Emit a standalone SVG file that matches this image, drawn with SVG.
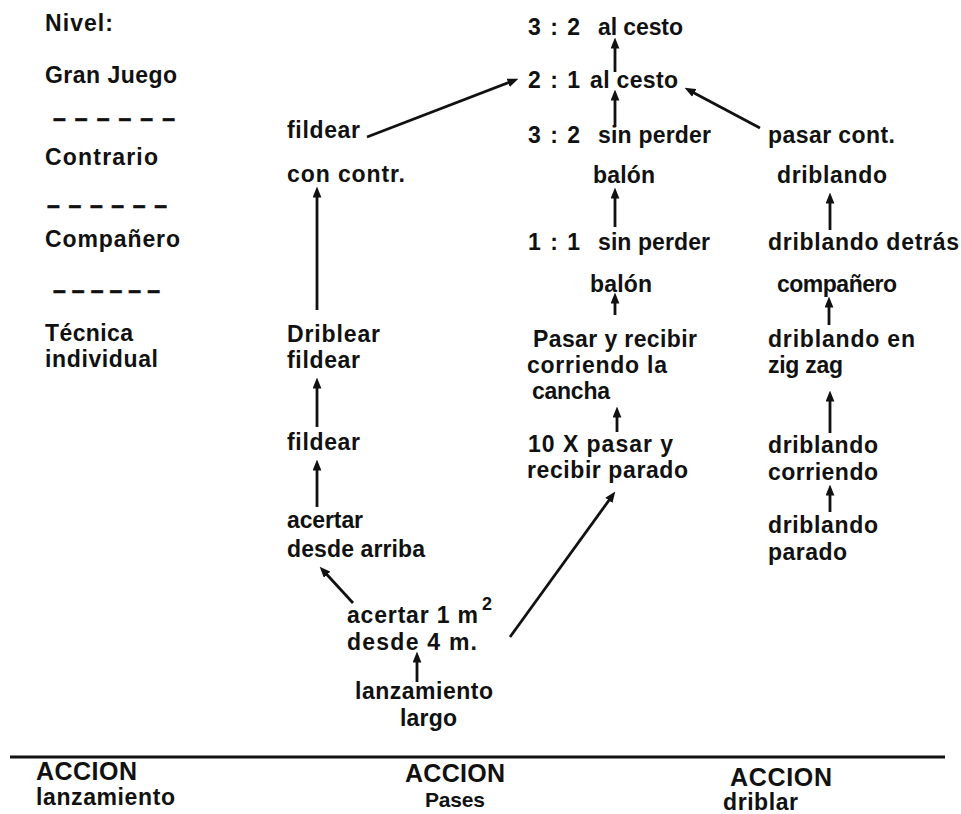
<svg xmlns="http://www.w3.org/2000/svg" width="961" height="814" viewBox="0 0 961 814">
<style>
text{font-family:"Liberation Sans",Arial,sans-serif;font-weight:bold;font-size:23px;fill:#111;}
.big{font-size:25px;}
.small{font-size:21px;}
.sup{font-size:18px;}
.dash{font-size:23px;stroke:#111;stroke-width:0.6;}
.conn line{stroke:#111;stroke-width:2.8;fill:none;marker-end:url(#ah);}
.axis{stroke:#111;stroke-width:3;}
</style>
<defs>
<marker id="ah" viewBox="0 0 10 8" refX="5" refY="4" markerWidth="11" markerHeight="9" markerUnits="userSpaceOnUse" orient="auto">
<path d="M0,0 L10,4 L0,8 z" fill="#111"/>
</marker>
</defs>
<rect width="961" height="814" fill="#fff"/>

<g id="levels">
<g id="lvl-nivel"><text x="45" y="31" textLength="68" lengthAdjust="spacing">Nivel:</text></g>
<g id="lvl-gran-juego"><text x="45" y="83" textLength="132" lengthAdjust="spacing">Gran Juego</text></g>
<g id="sep1"><text class="dash" x="53" y="126" textLength="122" lengthAdjust="spacing">– – – – – –</text></g>
<g id="lvl-contrario"><text x="45" y="165" textLength="113" lengthAdjust="spacing">Contrario</text></g>
<g id="sep2"><text class="dash" x="47" y="213" textLength="120" lengthAdjust="spacing">– – – – – –</text></g>
<g id="lvl-companero"><text x="45" y="247" textLength="135" lengthAdjust="spacing">Compañero</text></g>
<g id="sep3"><text class="dash" x="53" y="298" textLength="107" lengthAdjust="spacing">– – – – – –</text></g>
<g id="lvl-tecnica"><text x="45" y="341" textLength="88" lengthAdjust="spacing">Técnica</text><text x="45" y="367" textLength="113" lengthAdjust="spacing">individual</text></g>
</g>

<g id="n-fildear-contr"><text x="287" y="138" textLength="73" lengthAdjust="spacing">fildear</text><text x="287" y="182" textLength="118" lengthAdjust="spacing">con contr.</text></g>
<g id="n-driblear-fildear"><text x="287" y="342" textLength="93" lengthAdjust="spacing">Driblear</text><text x="287" y="368" textLength="73" lengthAdjust="spacing">fildear</text></g>
<g id="n-fildear"><text x="287" y="450" textLength="73" lengthAdjust="spacing">fildear</text></g>
<g id="n-acertar-arriba"><text x="287" y="528" textLength="76" lengthAdjust="spacing">acertar</text><text x="287" y="557" textLength="138" lengthAdjust="spacing">desde arriba</text></g>
<g id="n-acertar-1m"><text x="347" y="623"><tspan textLength="131" lengthAdjust="spacing">acertar 1 m</tspan><tspan class="sup" x="482" y="610">2</tspan></text><text x="347" y="650" textLength="130" lengthAdjust="spacing">desde 4  m.</text></g>
<g id="n-lanzamiento-largo"><text x="355" y="699" textLength="138" lengthAdjust="spacing">lanzamiento</text><text x="400" y="726" textLength="57" lengthAdjust="spacing">largo</text></g>

<g id="n-32-cesto"><text y="35"><tspan x="528" textLength="52" lengthAdjust="spacing">3 : 2</tspan><tspan x="598" textLength="85" lengthAdjust="spacing">al cesto</tspan></text></g>
<g id="n-21-cesto"><text y="88"><tspan x="528" textLength="52" lengthAdjust="spacing">2 : 1</tspan><tspan x="590" textLength="88" lengthAdjust="spacing">al cesto</tspan></text></g>
<g id="n-32-sin"><text y="143"><tspan x="528" textLength="52" lengthAdjust="spacing">3 : 2</tspan><tspan x="598" textLength="113" lengthAdjust="spacing">sin perder</tspan></text><text x="593" y="183" textLength="62" lengthAdjust="spacing">balón</text></g>
<g id="n-11-sin"><text y="250"><tspan x="528" textLength="52" lengthAdjust="spacing">1 : 1</tspan><tspan x="598" textLength="112" lengthAdjust="spacing">sin perder</tspan></text><text x="590" y="292" textLength="62" lengthAdjust="spacing">balón</text></g>
<g id="n-pasar-corriendo"><text x="533" y="347" textLength="164" lengthAdjust="spacing">Pasar y recibir</text><text x="527" y="373" textLength="140" lengthAdjust="spacing">corriendo la</text><text x="532" y="399" textLength="78" lengthAdjust="spacing">cancha</text></g>
<g id="n-10x"><text x="528" y="452" textLength="145" lengthAdjust="spacing">10 X pasar y</text><text x="527" y="478" textLength="161" lengthAdjust="spacing">recibir parado</text></g>

<g id="n-pasar-cont"><text x="768" y="143" textLength="127" lengthAdjust="spacing">pasar cont.</text><text x="777" y="183" textLength="110" lengthAdjust="spacing">driblando</text></g>
<g id="n-driblando-detras"><text x="768" y="250" textLength="191" lengthAdjust="spacing">driblando detrás</text><text x="777" y="292" textLength="120" lengthAdjust="spacing">compañero</text></g>
<g id="n-zigzag"><text x="768" y="347" textLength="147" lengthAdjust="spacing">driblando en</text><text x="768" y="373" textLength="75" lengthAdjust="spacing">zig zag</text></g>
<g id="n-driblando-corriendo"><text x="768" y="453" textLength="110" lengthAdjust="spacing">driblando</text><text x="768" y="480" textLength="110" lengthAdjust="spacing">corriendo</text></g>
<g id="n-driblando-parado"><text x="768" y="533" textLength="110" lengthAdjust="spacing">driblando</text><text x="768" y="560" textLength="79" lengthAdjust="spacing">parado</text></g>

<g id="connectors" class="conn">
<line x1="317" y1="310" x2="317" y2="192"/>
<line x1="317" y1="427" x2="317" y2="383"/>
<line x1="317" y1="507" x2="317" y2="465"/>
<line x1="353" y1="603" x2="323.4" y2="570.7"/>
<line x1="417" y1="682" x2="417" y2="657"/>
<line x1="510" y1="637" x2="612.1" y2="496"/>
<line x1="367" y1="137" x2="513.3" y2="80.8"/>
<line x1="760" y1="128" x2="689.4" y2="90.4"/>
<line x1="615" y1="72" x2="615" y2="43"/>
<line x1="615" y1="127" x2="615" y2="95"/>
<line x1="615" y1="227" x2="615" y2="193"/>
<line x1="615" y1="315" x2="615" y2="298"/>
<line x1="617" y1="432" x2="617" y2="412"/>
<line x1="830" y1="230" x2="830" y2="198"/>
<line x1="829" y1="325" x2="829" y2="302"/>
<line x1="830" y1="433" x2="830" y2="396"/>
<line x1="830" y1="512" x2="830" y2="490"/>
</g>

<g id="footer">
<line class="axis" x1="10" y1="757" x2="945" y2="757"/>
<g id="a-lanzamiento"><text class="big" x="36" y="780" textLength="101" lengthAdjust="spacing">ACCION</text><text x="36" y="805" textLength="139" lengthAdjust="spacing">lanzamiento</text></g>
<g id="a-pases"><text class="big" x="405" y="782" textLength="100" lengthAdjust="spacing">ACCION</text><text class="small" x="425" y="807" textLength="60" lengthAdjust="spacing">Pases</text></g>
<g id="a-driblar"><text class="big" x="730" y="786" textLength="102" lengthAdjust="spacing">ACCION</text><text x="723" y="810" textLength="75" lengthAdjust="spacing">driblar</text></g>
</g>
</svg>
